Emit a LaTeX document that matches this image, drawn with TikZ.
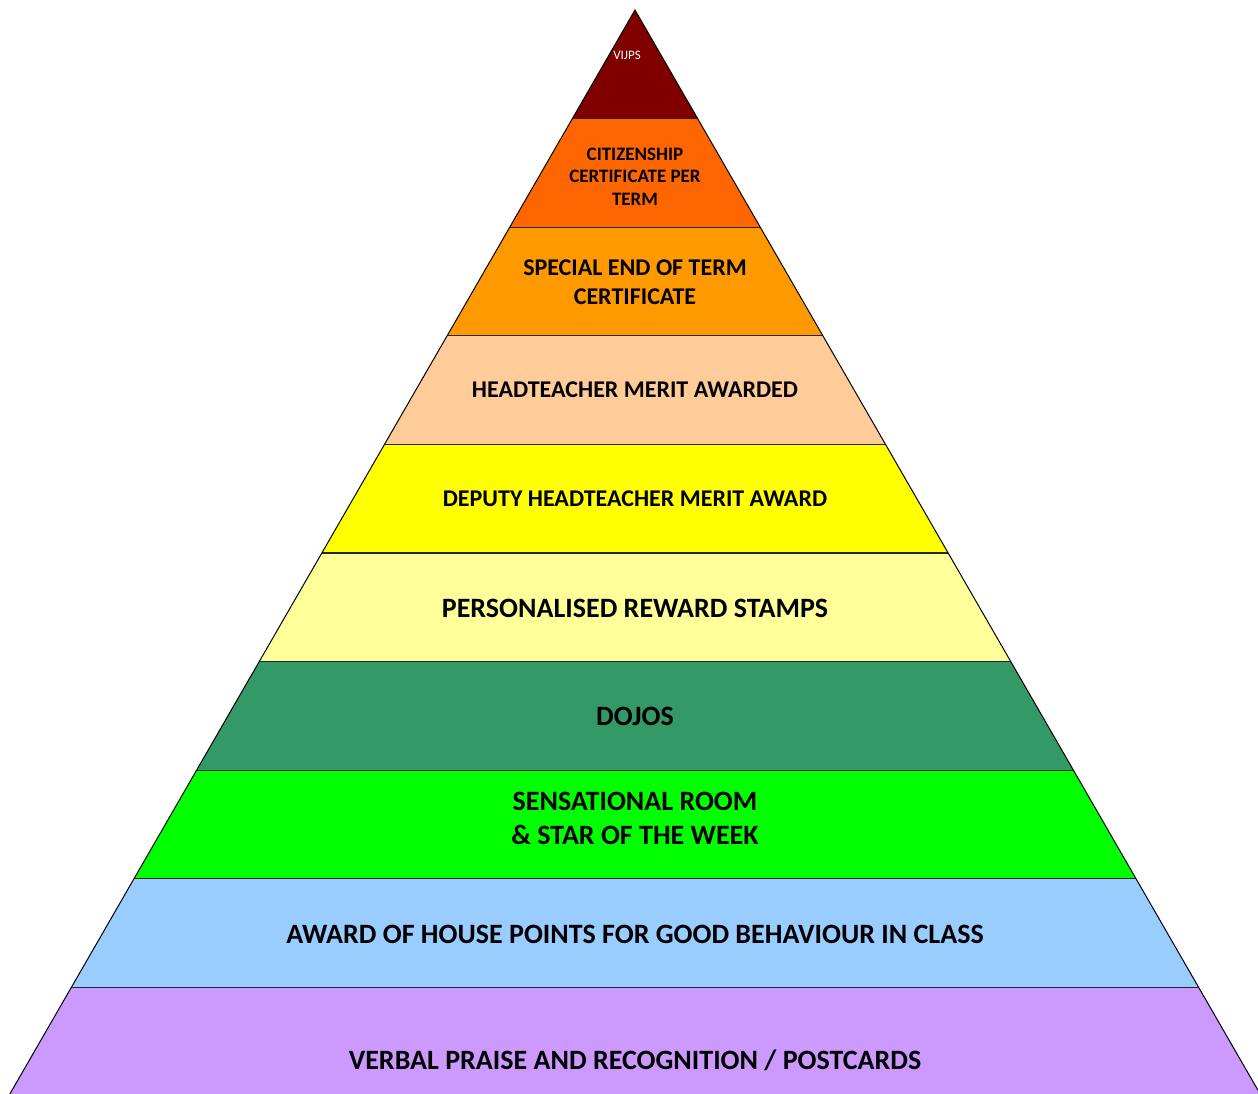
\documentclass[tikz,border=0pt]{standalone}
\usepackage{fontspec}
\setmainfont{Carlito}
\begin{document}
\begin{tikzpicture}[x=1pt,y=-1pt,
  lbl/.style={align=center,text=black,inner sep=0pt}]
\useasboundingbox (0,0) rectangle (1258,1093);
\clip (0,0) rectangle (1258,1093);
\def\sl{0.5767}
\foreach \i/\col in {0/800000,1/FF6600,2/FF9900,3/FFCC99,4/FFFF00,5/FFFF99,6/339966,7/00FF00,8/99CCFF,9/CC99FF}{
  \pgfmathsetmacro{\ya}{10+\i*108.6}
  \pgfmathsetmacro{\yb}{10+(\i+1)*108.6}
  \pgfmathsetmacro{\xa}{\sl*(\ya-10)}
  \pgfmathsetmacro{\xb}{\sl*(\yb-10)}
  \definecolor{bc}{HTML}{\col}
  \fill[bc] (635-\xa,\ya) -- (635+\xa,\ya) -- (635+\xb,\yb) -- (635-\xb,\yb) -- cycle;
}
\foreach \i in {1,...,9}{
  \pgfmathsetmacro{\ya}{10+\i*108.6}
  \pgfmathsetmacro{\xa}{\sl*(\ya-10)}
  \draw[line width=1.3pt,black!85] (635-\xa,\ya) -- (635+\xa,\ya);
}
\draw[line width=1pt] (635-626.3,1096) -- (635,10) -- (635+626.3,1096);
\node[inner sep=0pt,text=white,font=\fontsize{13}{15}\selectfont] (t0) at (627,55) {VIJPS};
\node[lbl,font=\bfseries\fontsize{19}{22.5}\selectfont] (t1) at (635,176.5) {CITIZENSHIP\\CERTIFICATE PER\\TERM};
\node[lbl,font=\bfseries\fontsize{24}{28.5}\selectfont] (t2) at (635,282) {SPECIAL END OF TERM\\CERTIFICATE};
\node[lbl,font=\bfseries\fontsize{24}{28}\selectfont] (t3) at (635,390) {HEADTEACHER MERIT AWARDED};
\node[lbl,font=\bfseries\fontsize{24}{28}\selectfont] (t4) at (635,499) {DEPUTY HEADTEACHER MERIT AWARD};
\node[lbl,font=\bfseries\fontsize{28}{33}\selectfont] (t5) at (635,608) {PERSONALISED REWARD STAMPS};
\node[lbl,font=\bfseries\fontsize{28}{33}\selectfont] (t6) at (635,716) {DOJOS};
\node[lbl,font=\bfseries\fontsize{28}{34}\selectfont] (t7) at (635,818) {SENSATIONAL ROOM\\\& STAR OF THE WEEK};
\node[lbl,font=\bfseries\fontsize{28}{33}\selectfont] (t8) at (635,934) {AWARD OF HOUSE POINTS FOR GOOD BEHAVIOUR IN CLASS};
\node[lbl,font=\bfseries\fontsize{28}{33}\selectfont] (t9) at (635,1060) {VERBAL PRAISE AND RECOGNITION / POSTCARDS};
\end{tikzpicture}
\end{document}
